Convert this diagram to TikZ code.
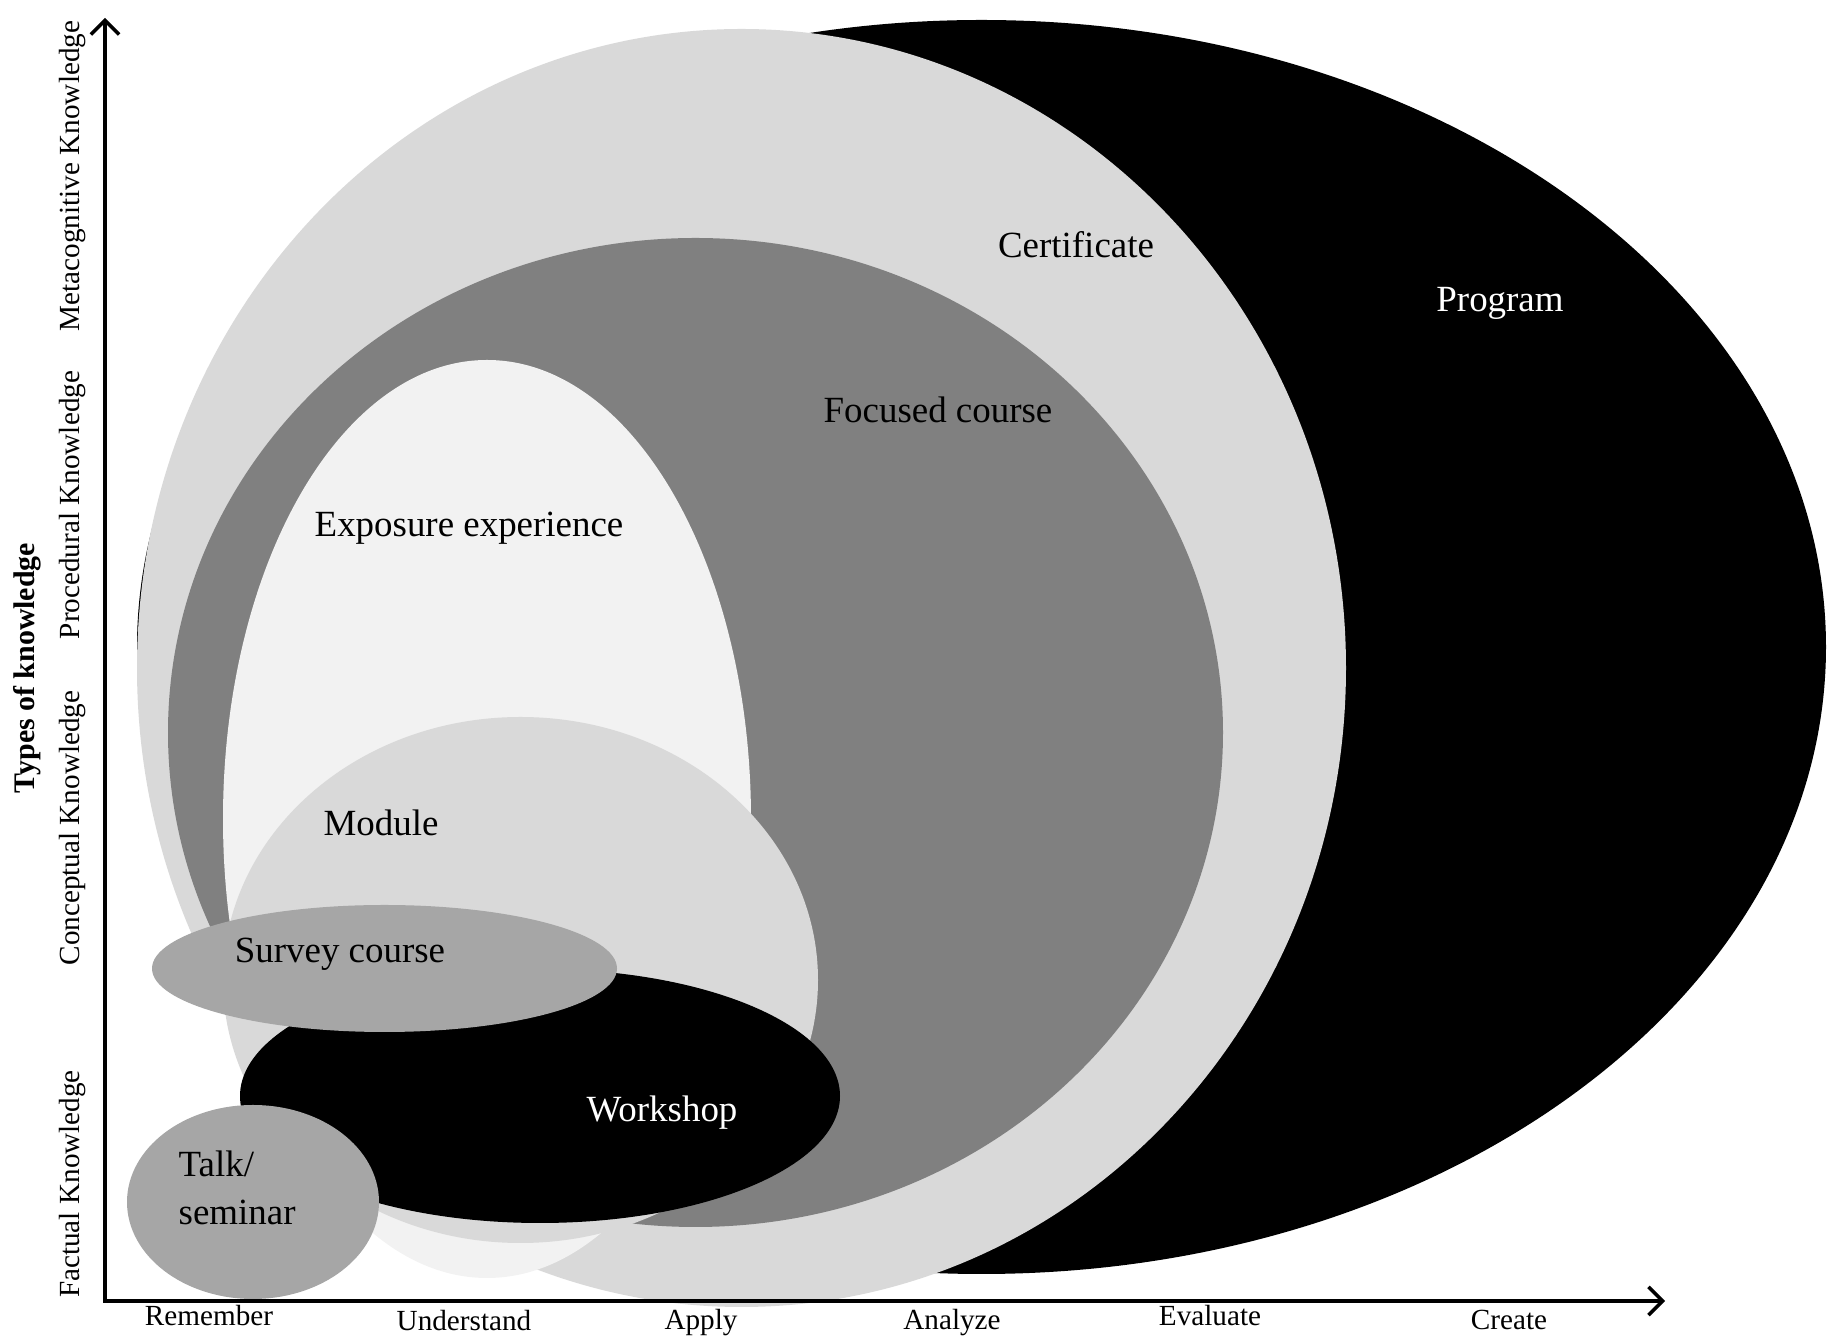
\documentclass[tikz,border=0pt]{standalone}
\usepackage{fontspec}
\setmainfont{Liberation Serif}
\usetikzlibrary{arrows.meta}
\definecolor{certgray}{HTML}{D9D9D9}
\definecolor{focusgray}{HTML}{808080}
\definecolor{exposegray}{HTML}{F2F2F2}
\definecolor{surveygray}{HTML}{A6A6A6}
\begin{document}
\begin{tikzpicture}[x=0.01cm, y=0.01cm,
    inlbl/.style={anchor=base, inner sep=0pt, font=\fontsize{10.5}{13.9}\selectfont},
    axlbl/.style={anchor=base, inner sep=0pt, font=\fontsize{8.3}{10}\selectfont},
    axis/.style={line width=1pt, {Straight Barb[length=4pt,width=8pt]}-{Straight Barb[length=4pt,width=8pt]}}]
    \useasboundingbox (0,0) rectangle (1838,1339);

    % nested scopes, largest first
    \fill[black]
        (981.5,692) ellipse [x radius=844.5, y radius=627];
    \fill[certgray]
        (741.5,671) ellipse [x radius=604.5, y radius=639];
    \fill[focusgray]
        (695.5,606.5) ellipse [x radius=527.5, y radius=494.5];
    \fill[exposegray]
        (487,520) ellipse [x radius=264, y radius=459];
    \fill[certgray]
        (520.5,359) ellipse [x radius=297.5, y radius=263];
    \fill[black]
        (540,243) ellipse [x radius=300, y radius=127];
    \fill[surveygray]
        (384.5,370.5) ellipse [x radius=232.5, y radius=63.5];
    \fill[surveygray]
        (253,137) ellipse [x radius=126, y radius=97];

    \node[inlbl] (program) at (1500,1027) {\color{white}Program};
    \node[inlbl] (cert) at (1076,1081) {Certificate};
    \node[inlbl] (focused) at (938,916) {Focused course};
    \node[inlbl] (exposure) at (469,802) {Exposure experience};
    \node[inlbl] (module) at (381,503) {Module};
    \node[inlbl] (survey) at (340,376) {Survey course};
    \node[inlbl] (workshop) at (662,217) {\color{white}Workshop};
    \node[inlbl, anchor=base west, align=left] (talk) at (178,114) {Talk/\\seminar};

    % axes
    \coordinate (ytop) at (105,1321);
    \coordinate (origin) at (105,38);
    \coordinate (xend) at (1665,38);
    \draw[axis] (ytop) -- (origin) -- (xend);

    \node[axlbl] (remember) at (209,13) {Remember};
    \node[axlbl] (understand) at (464,8) {Understand};
    \node[axlbl] (apply) at (701,9) {Apply};
    \node[axlbl] (analyze) at (952,9) {Analyze};
    \node[axlbl] (evaluate) at (1210,13) {Evaluate};
    \node[axlbl] (create) at (1509,9) {Create};

    \node[axlbl, rotate=90] (factual) at (80,155) {Factual Knowledge};
    \node[axlbl, rotate=90] (conceptual) at (80,511) {Conceptual Knowledge};
    \node[axlbl, rotate=90] (procedural) at (80,834) {Procedural Knowledge};
    \node[axlbl, rotate=90] (metacog) at (80,1163) {Metacognitive Knowledge};
    \node[axlbl, rotate=90, font=\fontsize{8.5}{10}\selectfont\bfseries] (types) at (35,671) {Types of knowledge};
\end{tikzpicture}
\end{document}
